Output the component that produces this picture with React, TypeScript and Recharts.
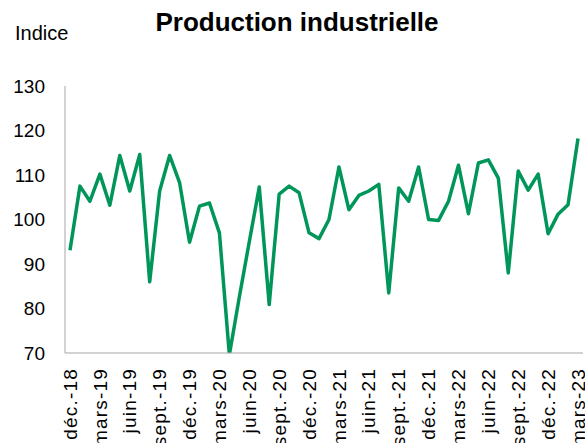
import { Line, LineChart, XAxis, YAxis } from "recharts";

const months = [
  "déc.-18", "janv.-19", "févr.-19", "mars-19", "avr.-19", "mai-19", "juin-19", "juil.-19", "août-19", "sept.-19", "oct.-19", "nov.-19",
  "déc.-19", "janv.-20", "févr.-20", "mars-20", "avr.-20", "mai-20", "juin-20", "juil.-20", "août-20", "sept.-20", "oct.-20", "nov.-20",
  "déc.-20", "janv.-21", "févr.-21", "mars-21", "avr.-21", "mai-21", "juin-21", "juil.-21", "août-21", "sept.-21", "oct.-21", "nov.-21",
  "déc.-21", "janv.-22", "févr.-22", "mars-22", "avr.-22", "mai-22", "juin-22", "juil.-22", "août-22", "sept.-22", "oct.-22", "nov.-22",
  "déc.-22", "janv.-23", "févr.-23", "mars-23",
];

const indice = [
  93.1, 107.5, 104.1, 110.2, 103.2, 114.4, 106.4, 114.6, 86.0, 106.4, 114.4, 108.3,
  94.9, 103.0, 103.7, 97.0, 69.6, 82.6, 95.0, 107.3, 80.9, 105.7, 107.5, 106.0,
  97.0, 95.7, 100.0, 111.8, 102.2, 105.4, 106.4, 107.9, 83.5, 107.1, 104.1, 111.8,
  100.0, 99.8, 104.1, 112.2, 101.3, 112.7, 113.4, 109.3, 88.0, 110.9, 106.6, 110.2,
  96.8, 101.2, 103.3, 118.2,
];

const yTicks = [70, 80, 90, 100, 110, 120, 130];

const data = months.map((m, i) => ({ m, v: indice[i] }));

const font = '"Liberation Sans", Arial, sans-serif';
const frame = "#a6a6a6";
const green = "#00965a";

function XTick({ x, y, payload }: any) {
  return (
    <text
      x={x}
      y={y}
      transform={`rotate(-90, ${x}, ${y})`}
      textAnchor="end"
      dy="0.35em"
      fontSize={19}
      fontFamily={font}
      letterSpacing={1.2}
      fill="#000"
    >
      {payload.value}
    </text>
  );
}

export default function App() {
  return (
    <div style={{ position: "relative", width: 585, height: 443, background: "#fff", fontFamily: font }}>
      <style>{"body{margin:0}"}</style>
      <LineChart width={585} height={443} data={data} margin={{ top: 86, right: 2, bottom: 0, left: 0 }}>
        <XAxis
          dataKey="m"
          interval={2}
          height={90}
          padding={{ left: 5, right: 5 }}
          tickLine={false}
          tickSize={0}
          tickMargin={15}
          axisLine={{ stroke: frame, strokeWidth: 1 }}
          tick={<XTick />}
        />
        <XAxis xAxisId="top" dataKey="m" orientation="top" height={0} tick={false} tickLine={false} axisLine={{ stroke: frame }} />
        <YAxis
          domain={[70, 130]}
          ticks={yTicks}
          allowDataOverflow
          width={65}
          tickLine={false}
          tickSize={0}
          tickMargin={20}
          axisLine={{ stroke: frame }}
          tick={{ fontSize: 19, fill: "#000", fontFamily: font }}
        />
        <YAxis yAxisId="right" orientation="right" domain={[70, 130]} width={0} tick={false} tickLine={false} axisLine={{ stroke: frame }} />
        <Line
          type="linear"
          dataKey="v"
          stroke={green}
          strokeWidth={3.5}
          strokeLinejoin="round"
          dot={false}
          isAnimationActive={false}
        />
      </LineChart>
      <svg width={585} height={60} style={{ position: "absolute", left: 0, top: 0, pointerEvents: "none" }}>
        <text x={297} y={31} textAnchor="middle" fontSize={26} fontWeight="bold" fontFamily={font} fill="#000">
          Production industrielle
        </text>
        <text x={15} y={40} fontSize={20} fontFamily={font} fill="#000">
          Indice
        </text>
      </svg>
    </div>
  );
}
